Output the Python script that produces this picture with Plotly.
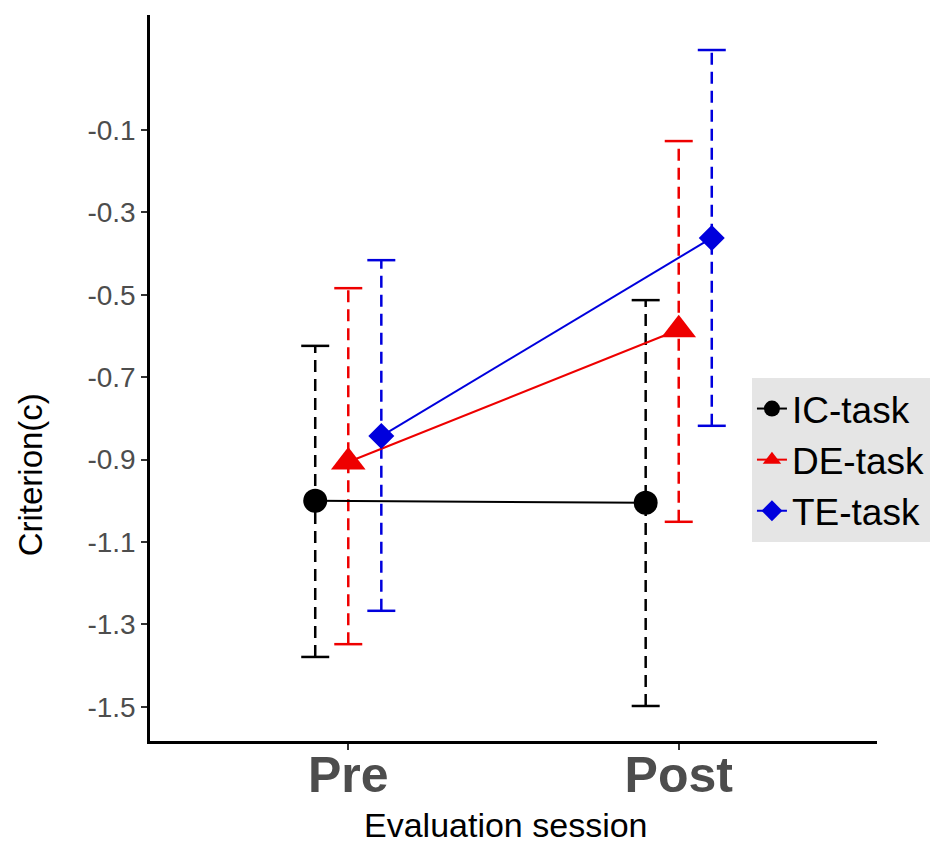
import plotly.graph_objects as go

sessions = ["Pre", "Post"]
groups = ["IC-task", "DE-task", "TE-task"]
means = {
    "IC-task": [-1.000, -1.005],
    "DE-task": [-0.906, -0.585],
    "TE-task": [-0.843, -0.362],
}
upper = {
    "IC-task": [-0.624, -0.513],
    "DE-task": [-0.484, -0.127],
    "TE-task": [-0.416, 0.094],
}
lower = {
    "IC-task": [-1.379, -1.498],
    "DE-task": [-1.348, -1.051],
    "TE-task": [-1.267, -0.818],
}
y_tick_vals = [-1.5, -1.3, -1.1, -0.9, -0.7, -0.5, -0.3, -0.1]
y_tick_text = ["-1.5", "-1.3", "-1.1", "-0.9", "-0.7", "-0.5", "-0.3", "-0.1"]
x_title = "Evaluation session"
y_title = "Criterion(c)"

colors = {"IC-task": "#000000", "DE-task": "#ee0000", "TE-task": "#0000dd"}
symbols = {"IC-task": "circle", "DE-task": "triangle-up", "TE-task": "diamond"}
msizes = {"IC-task": 24, "DE-task": 30, "TE-task": 20}
dodge = {"IC-task": -0.1, "DE-task": 0.0, "TE-task": 0.1}
base_x = [1, 2]
FONT = "Liberation Sans, Arial, sans-serif"

fig = go.Figure()

for g in groups:
    xs = [b + dodge[g] for b in base_x]
    ex, ey = [], []
    for i, x in enumerate(xs):
        ex += [x, x, None]
        ey += [lower[g][i], upper[g][i], None]
    fig.add_trace(go.Scatter(x=ex, y=ey, mode="lines", showlegend=False,
                             line=dict(color=colors[g], width=2.5, dash="12px,7px"),
                             hoverinfo="skip"))
    fig.add_trace(go.Scatter(x=xs + xs, y=lower[g] + upper[g], mode="markers", showlegend=False,
                             marker=dict(symbol="line-ew-open", size=20, color=colors[g],
                                         line=dict(color=colors[g], width=2.5)),
                             hoverinfo="skip"))

for g in groups:
    xs = [b + dodge[g] for b in base_x]
    fig.add_trace(go.Scatter(x=xs, y=means[g], mode="lines+markers", name=g,
                             line=dict(color=colors[g], width=2),
                             marker=dict(symbol=symbols[g], size=msizes[g], color=colors[g])))

fig.update_layout(
    width=939, height=844,
    margin=dict(l=150, r=62, t=15, b=103, autoexpand=False),
    paper_bgcolor="white", plot_bgcolor="white",
    font=dict(family=FONT, color="black"),
    legend=dict(x=0.828, y=0.5, xanchor="left", yanchor="top",
                bgcolor="#e5e5e5", font=dict(size=37, color="black"),
                itemwidth=30, tracegroupgap=4),
    annotations=[
        dict(text=x_title, xref="paper", yref="paper", x=0.49, y=-0.1157,
             xanchor="center", yanchor="middle", showarrow=False,
             font=dict(size=34, color="black", family=FONT)),
        dict(text=y_title, xref="paper", yref="paper", x=-0.165, y=0.366,
             xanchor="center", yanchor="middle", showarrow=False, textangle=-90,
             font=dict(size=33, color="black", family=FONT)),
    ],
)
fig.update_xaxes(range=[0.4, 2.6], tickvals=base_x, ticktext=sessions, automargin=False,
                 showgrid=False, zeroline=False, showline=True, linecolor="black", linewidth=2.5,
                 ticks="outside", ticklen=6, tickwidth=2, tickcolor="#333333",
                 ticklabelstandoff=-18,
                 tickfont=dict(size=50, color="#4d4d4d", family=FONT, weight="bold"))
fig.update_yaxes(range=[-1.583, 0.179], tickvals=y_tick_vals, ticktext=y_tick_text, automargin=False,
                 showgrid=False, zeroline=False, showline=True, linecolor="black", linewidth=2.5,
                 ticks="outside", ticklen=6, tickwidth=2, tickcolor="#333333",
                 tickfont=dict(size=28, color="#4d4d4d"))

fig.write_html("out.html")
